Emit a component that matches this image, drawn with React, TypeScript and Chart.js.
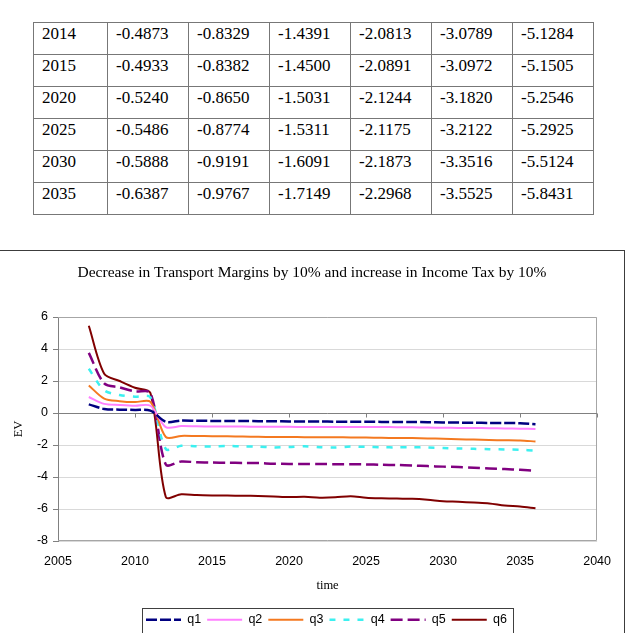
import React, { useEffect, useRef } from 'react';
import { Chart, registerables } from 'chart.js';

Chart.register(...registerables);

// ---- data -------------------------------------------------------------
const years = [
  2007, 2008, 2009, 2010, 2011, 2012, 2013, 2014, 2015, 2016,
  2017, 2018, 2019, 2020, 2021, 2022, 2023, 2024, 2025, 2026,
  2027, 2028, 2029, 2030, 2031, 2032, 2033, 2034, 2035, 2036,
];

const q1 = [
  0.54, 0.25, 0.21, 0.19, 0.15, -0.55, -0.47, -0.4873, -0.4933, -0.50,
  -0.50, -0.51, -0.52, -0.5240, -0.53, -0.535, -0.54, -0.545, -0.5486, -0.555,
  -0.56, -0.565, -0.575, -0.5888, -0.60, -0.61, -0.62, -0.625, -0.6387, -0.70,
];
const q2 = [
  1.0, 0.57, 0.5, 0.45, 0.45, -0.88, -0.82, -0.8329, -0.8382, -0.84,
  -0.85, -0.86, -0.86, -0.8650, -0.87, -0.87, -0.87, -0.875, -0.8774, -0.88,
  -0.885, -0.89, -0.91, -0.9191, -0.93, -0.94, -0.95, -0.97, -0.9767, -1.0,
];
const q3 = [
  1.72, 0.9, 0.74, 0.68, 0.70, -1.50, -1.43, -1.4391, -1.4500, -1.46,
  -1.47, -1.49, -1.50, -1.5031, -1.51, -1.51, -1.52, -1.525, -1.5311, -1.55,
  -1.56, -1.57, -1.59, -1.6091, -1.64, -1.66, -1.69, -1.70, -1.7149, -1.78,
];
const q4 = [
  2.76, 1.42, 1.12, 1.02, 0.98, -2.25, -2.05, -2.0813, -2.0891, -2.06,
  -2.09, -2.10, -2.15, -2.1244, -2.08, -2.14, -2.16, -2.10, -2.1175, -2.14,
  -2.15, -2.14, -2.16, -2.1873, -2.22, -2.24, -2.26, -2.28, -2.2968, -2.35,
];
const q5 = [
  3.76, 1.85, 1.6, 1.35, 1.25, -3.22, -3.03, -3.0789, -3.0972, -3.11,
  -3.12, -3.13, -3.17, -3.1820, -3.18, -3.19, -3.20, -3.20, -3.2122, -3.24,
  -3.25, -3.28, -3.32, -3.3516, -3.38, -3.42, -3.47, -3.50, -3.5525, -3.62,
];
const q6 = [
  5.45, 2.45, 2.0, 1.58, 1.25, -5.25, -5.08, -5.1284, -5.1505, -5.16,
  -5.17, -5.19, -5.22, -5.2546, -5.24, -5.29, -5.27, -5.20, -5.2925, -5.33,
  -5.35, -5.36, -5.42, -5.5124, -5.55, -5.60, -5.65, -5.78, -5.8431, -5.95,
];

const seriesNames = ['q1', 'q2', 'q3', 'q4', 'q5', 'q6'];
const seriesValues = [q1, q2, q3, q4, q5, q6];

// rows listed in the summary table above the chart
const tableYears = [2014, 2015, 2020, 2025, 2030, 2035];

const xRange = { min: 2005, max: 2040, step: 5 };
const yRange = { min: -8, max: 6, step: 2 };

const chartTitle = 'Decrease in Transport Margins by 10% and increase in Income Tax by 10%';
const xTitle = 'time';
const yTitle = 'EV';

// ---- styling ----------------------------------------------------------
const lineColors = ['#000080', '#ff80ff', '#f47920', '#3cf0f0', '#800080', '#800000'];
const lineDashes: number[][] = [[11, 3], [], [], [6, 8], [12, 5], []];
const lineWidths = [2.5, 2, 2, 2.5, 2.5, 2];

const SANS = '"Liberation Sans", Arial, sans-serif';
const SERIF = '"Liberation Serif", "Times New Roman", serif';

const LEGEND_LEFT = 146;
const LEGEND_DROP = 3;

const framePlugin = {
  id: 'frame',
  afterUpdate(chart: any) {
    // centre the title on the whole canvas rather than the padded area
    const t = chart.titleBlock;
    if (t) {
      t.left = 0;
      t.right = chart.width;
      t.width = chart.width;
    }
    // slide the legend so that it sits under the plot area
    const lg = chart.legend;
    if (lg && lg.legendHitBoxes && lg.legendHitBoxes.length) {
      const dx = LEGEND_LEFT - lg.legendHitBoxes[0].left;
      lg.left += dx;
      lg.right += dx;
      lg.top += LEGEND_DROP;
      lg.bottom += LEGEND_DROP;
      // refresh the horizontal item positions (used for the frame below)
      lg.adjustHitBoxes();
    }
  },
  beforeDatasetsDraw(chart: any) {
    const { ctx, chartArea: a, scales } = chart;
    const x = scales.x;
    const y = scales.y;
    ctx.save();
    // plot-area outline
    ctx.strokeStyle = '#a6a6a6';
    ctx.lineWidth = 1;
    ctx.beginPath();
    const top = Math.round(a.top) + 0.5;
    const right = Math.round(a.right) - 0.5;
    const bottom = Math.round(a.bottom) - 0.5;
    ctx.moveTo(a.left, top);
    ctx.lineTo(right, top);
    ctx.lineTo(right, bottom);
    ctx.lineTo(a.left, bottom);
    ctx.stroke();
    // horizontal axis crossing at zero, with its tick marks
    const y0 = Math.round(y.getPixelForValue(0)) + 0.5;
    ctx.strokeStyle = '#808080';
    ctx.beginPath();
    ctx.moveTo(a.left, y0);
    ctx.lineTo(a.right, y0);
    for (const t of x.ticks) {
      const px = Math.round(x.getPixelForValue(t.value)) + 0.5;
      ctx.moveTo(px, y0);
      ctx.lineTo(px, y0 + 4);
    }
    ctx.stroke();
    ctx.restore();
  },
  afterDraw(chart: any) {
    // frame around the legend row
    const lg = chart.legend;
    if (!lg || !lg.legendHitBoxes || !lg.legendHitBoxes.length) return;
    const hb = lg.legendHitBoxes;
    const first = hb[0];
    const last = hb[hb.length - 1];
    const pad = lg.options.labels.padding;
    const ctx = chart.ctx;
    const l = Math.round(first.left - 4) + 0.5;
    const r = Math.round(last.left + last.width + 6) + 0.5;
    const t = Math.round(lg.top + pad - 6) + 0.5;
    ctx.save();
    ctx.strokeStyle = '#404040';
    ctx.lineWidth = 1;
    ctx.strokeRect(l, t, r - l, chart.height - t + 10);
    ctx.restore();
  },
};

export default function App() {
  const canvasRef = useRef<HTMLCanvasElement>(null);

  useEffect(() => {
    const canvas = canvasRef.current;
    if (!canvas) return;

    const datasets = seriesNames.map((name, i) => ({
      label: name,
      data: years.map((yr, j) => ({ x: yr, y: seriesValues[i][j] })),
      borderColor: lineColors[i],
      backgroundColor: lineColors[i],
      borderDash: lineDashes[i],
      borderWidth: lineWidths[i],
      pointRadius: 0,
      pointHoverRadius: 0,
      tension: 0.3,
      fill: false,
    }));

    const chart = new Chart(canvas, {
      type: 'line',
      data: { datasets },
      plugins: [framePlugin],
      options: {
        animation: false,
        responsive: false,
        devicePixelRatio: 1,
        events: [],
        layout: { padding: { left: 0, right: 25, top: 0, bottom: 0 } },
        plugins: {
          tooltip: { enabled: false },
          title: {
            display: true,
            text: chartTitle,
            color: '#000',
            font: { family: SERIF, size: 15.5, weight: 'normal' },
            padding: { top: 12.7, bottom: 34.7 },
          },
          legend: {
            display: true,
            position: 'bottom',
            labels: {
              color: '#000',
              font: { family: SANS, size: 12.5 },
              usePointStyle: true,
              pointStyle: 'line',
              pointStyleWidth: 35,
              padding: 6,
              generateLabels: (c: any) => {
                const items = Chart.defaults.plugins.legend.labels.generateLabels(c);
                items.forEach((it: any) => {
                  const ds: any = c.data.datasets[it.datasetIndex];
                  it.lineDash = ds.borderDash;
                  it.lineWidth = ds.borderWidth;
                  it.strokeStyle = ds.borderColor;
                  it.pointStyle = 'line';
                });
                return items;
              },
            },
          },
        },
        scales: {
          x: {
            type: 'linear',
            position: 'bottom',
            min: xRange.min,
            max: xRange.max,
            afterFit: (s: any) => {
              s.height = 63.5;
            },
            ticks: {
              stepSize: xRange.step,
              color: '#000',
              font: { family: SANS, size: 12.5 },
              padding: 13,
              maxRotation: 0,
              callback: (v: any) => String(v),
            },
            grid: { display: false, drawTicks: false },
            border: { display: false },
            title: {
              display: true,
              text: xTitle,
              color: '#000',
              font: { family: SERIF, size: 12.5 },
              padding: { top: 0, bottom: 11 },
            },
          },
          y: {
            type: 'linear',
            min: yRange.min,
            max: yRange.max,
            afterFit: (s: any) => {
              s.width = 58;
            },
            ticks: {
              stepSize: yRange.step,
              color: '#000',
              font: { family: SANS, size: 12.5 },
              padding: 5,
            },
            grid: {
              color: '#d9d9d9',
              tickColor: '#808080',
              tickLength: 5,
              drawTicks: true,
            },
            border: { display: true, color: '#808080', width: 1 },
            title: {
              display: true,
              text: yTitle,
              color: '#000',
              font: { family: SERIF, size: 12.5 },
              padding: { top: 11.5, bottom: 0 },
            },
          },
        },
      } as any,
    });

    return () => chart.destroy();
  }, []);

  const cell: React.CSSProperties = {
    border: '1px solid #777',
    padding: '1px 8px 0',
    verticalAlign: 'top',
    whiteSpace: 'nowrap',
    overflow: 'hidden',
  };

  return (
    <div
      style={{
        position: 'absolute',
        left: 0,
        top: 0,
        width: 628,
        height: 633,
        overflow: 'hidden',
        background: '#fff',
      }}
    >
      <table
        style={{
          position: 'absolute',
          left: 33,
          top: 22,
          width: 560,
          borderCollapse: 'collapse',
          tableLayout: 'fixed',
          fontFamily: SERIF,
          fontSize: 17,
          color: '#000',
        }}
      >
        <colgroup>
          <col style={{ width: 74 }} />
          {seriesNames.map((n) => (
            <col key={n} style={{ width: 81 }} />
          ))}
        </colgroup>
        <tbody>
          {tableYears.map((yr) => {
            const idx = years.indexOf(yr);
            return (
              <tr key={yr} style={{ height: 32 }}>
                <td style={cell}>{yr}</td>
                {seriesValues.map((vals, k) => (
                  <td key={k} style={cell}>
                    {vals[idx].toFixed(4)}
                  </td>
                ))}
              </tr>
            );
          })}
        </tbody>
      </table>
      <div
        style={{
          position: 'absolute',
          left: -1,
          top: 250,
          width: 626,
          height: 420,
          border: '1px solid #3c3c3c',
          boxSizing: 'border-box',
        }}
      >
        <canvas
          ref={canvasRef}
          width={624}
          height={382}
          style={{ position: 'absolute', left: 0, top: 0, width: 624, height: 382, display: 'block' }}
        />
      </div>
    </div>
  );
}
